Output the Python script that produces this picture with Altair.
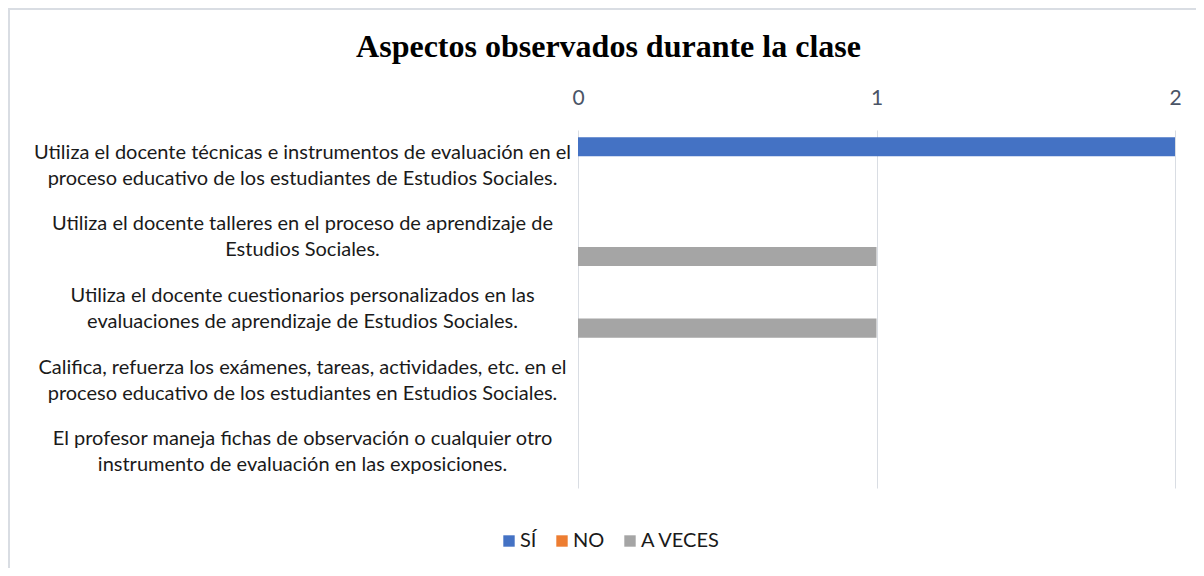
import altair as alt
import pandas as pd

# ---- data ----
categories = [
    "Utiliza el docente técnicas e instrumentos de evaluación en el\nproceso educativo de los estudiantes de Estudios Sociales.",
    "Utiliza el docente talleres en el proceso de aprendizaje de\nEstudios Sociales.",
    "Utiliza el docente cuestionarios personalizados en las\nevaluaciones de aprendizaje de Estudios Sociales.",
    "Califica, refuerza los exámenes, tareas, actividades, etc. en el\nproceso educativo de los estudiantes en Estudios Sociales.",
    "El profesor maneja fichas de observación o cualquier otro\ninstrumento de evaluación en las exposiciones.",
]
series = ["SÍ", "NO", "A VECES"]
si_values = [2, 0, 0, 0, 0]
no_values = [0, 0, 0, 0, 0]
aveces_values = [0, 1, 1, 0, 0]
x_ticks = [0, 1, 2]
colors = ["#4472C4", "#ED7D31", "#A5A5A5"]

rows = []
for s, vals in zip(series, [si_values, no_values, aveces_values]):
    for c, v in zip(categories, vals):
        rows.append({"categoria": c, "serie": s, "valor": v})
df = pd.DataFrame(rows)

PLOT_W, PLOT_H = 597, 358
PAD_L, PAD_T, PAD_R, PAD_B = 570, 122, 21, 80

bars = alt.Chart(df).mark_bar().encode(
    x=alt.X(
        "valor:Q",
        scale=alt.Scale(domain=[0, 2], nice=False),
        axis=alt.Axis(
            orient="top", values=x_ticks, format=".0f", title=None, ticks=False, domain=False,
            grid=True, gridColor="#D9DDE3", gridWidth=1,
            labelFont="Lato", labelFontSize=21, labelColor="#4A5466",
            labelPadding=22, labelFlush=False, labelOverlap=False,
        ),
    ),
    y=alt.Y(
        "categoria:N",
        sort=categories,
        scale=alt.Scale(paddingInner=0.2, paddingOuter=0.1),
        axis=alt.Axis(
            title=None, ticks=False, tickSize=0, domain=False, grid=False,
            labelExpr="split(datum.label, '\\n')",
            labelAlign="center", labelBaseline="middle",
            labelPadding=276, labelLimit=0, labelOffset=-13,
            labelFont="Lato", labelFontSize=20, labelLineHeight=26,
            labelColor="#1a1a1a",
        ),
    ),
    yOffset=alt.YOffset("serie:N", sort=series, scale=alt.Scale(domain=series, paddingInner=0, paddingOuter=0)),
    color=alt.Color(
        "serie:N",
        sort=series,
        scale=alt.Scale(domain=series, range=colors),
        legend=alt.Legend(
            title=None, orient="none", direction="horizontal",
            legendX=-79, legendY=401, padding=0,
            symbolType="square", symbolSize=130, symbolStrokeWidth=0,
            labelFont="Lato", labelFontSize=20, labelColor="#1a1a1a",
            labelOffset=1, columnPadding=15, gridAlign="none",
        ),
    ),
)

frame_data = alt.Data(values=[{"k": 1}])
top_line = alt.Chart(frame_data).mark_rule(color="#D9DDE3", strokeWidth=2).encode(
    x=alt.value(-PAD_L), x2=alt.value(PLOT_W + PAD_R), y=alt.value(-PAD_T + 1)
)
left_line = alt.Chart(frame_data).mark_rule(color="#D9DDE3", strokeWidth=2).encode(
    x=alt.value(-PAD_L + 1), y=alt.value(-PAD_T), y2=alt.value(PLOT_H + PAD_B)
)

chart = alt.layer(top_line, left_line, bars).properties(
    width=PLOT_W,
    height=PLOT_H,
    padding={"left": PAD_L, "top": PAD_T, "right": PAD_R, "bottom": PAD_B},
    autosize=alt.AutoSizeParams(type="none"),
    title=alt.TitleParams(
        "Aspectos observados durante la clase",
        font="Liberation Serif", fontSize=32, fontWeight="bold", color="#000000",
        anchor="middle", frame="group", dx=-268, dy=79, offset=22,
    ),
).configure(background="white", view=alt.ViewConfig(stroke=None))

chart.save("out.html", embed_options={"renderer": "svg", "actions": False})
